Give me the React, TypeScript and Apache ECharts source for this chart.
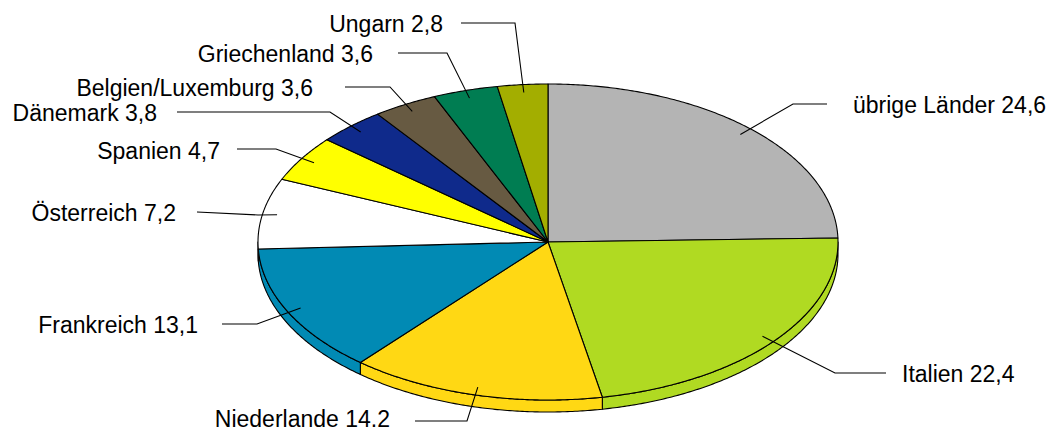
import React, { useEffect, useRef } from "react";
import * as echarts from "echarts";

// ---- data (clockwise from 12 o'clock) ----
const countries = [
  "übrige Länder",
  "Italien",
  "Niederlande",
  "Frankreich",
  "Österreich",
  "Spanien",
  "Dänemark",
  "Belgien/Luxemburg",
  "Griechenland",
  "Ungarn",
];
const shares = [24.6, 22.4, 14.2, 13.1, 7.2, 4.7, 3.8, 3.6, 3.6, 2.8];
const decimalSeparators = [",", ",", ".", ",", ",", ",", ",", ",", ",", ","];

// ---- styles ----
const colors = [
  "#b4b4b4",
  "#b0da22",
  "#ffd814",
  "#018ab4",
  "#ffffff",
  "#ffff00",
  "#0f2a8b",
  "#675a42",
  "#007d52",
  "#a3ae00",
];

// ---- layout ----
const CX = 548;
const CY = 242;
const RX = 290;
const RY = 158;
const DEPTH = 12;
const LEADER_F = 0.95;
const FONT = '23px "Liberation Sans", Arial, sans-serif';

// text anchor, leader start, elbow
const labelLayout = [
  { tx: 853, ty: 105, align: "left", lx: 827, ly: 104, ex: 793, ey: 104 },
  { tx: 902, ty: 374, align: "left", lx: 886, ly: 373, ex: 835, ey: 373 },
  { tx: 390, ty: 419, align: "right", lx: 415, ly: 421, ex: 467, ey: 421 },
  { tx: 198, ty: 325, align: "right", lx: 222, ly: 324, ex: 257, ey: 324 },
  { tx: 176, ty: 213, align: "right", lx: 197, ly: 212, ex: 258, ey: 215 },
  { tx: 220, ty: 151, align: "right", lx: 237, ly: 149, ex: 276, ey: 149 },
  { tx: 157, ty: 113, align: "right", lx: 177, ly: 112, ex: 330, ey: 112 },
  { tx: 313, ty: 88, align: "right", lx: 345, ly: 87, ex: 390, ey: 87 },
  { tx: 373, ty: 54, align: "right", lx: 398, ly: 53, ex: 447, ey: 53 },
  { tx: 443, ty: 24, align: "right", lx: 461, ly: 23, ex: 515, ey: 23 },
];

function pt(deg: number, f = 1, dy = 0): number[] {
  const r = (deg * Math.PI) / 180;
  return [CX + RX * f * Math.sin(r), CY - RY * f * Math.cos(r) + dy];
}

function arc(a0: number, a1: number, dy = 0): number[][] {
  const steps = Math.max(2, Math.ceil((a1 - a0) / 0.5));
  const out: number[][] = [];
  for (let s = 0; s <= steps; s++) {
    out.push(pt(a0 + ((a1 - a0) * s) / steps, 1, dy));
  }
  return out;
}

export default function App() {
  const ref = useRef<HTMLDivElement>(null);

  useEffect(() => {
    if (!ref.current) return;
    const chart = echarts.init(ref.current, null, { renderer: "svg" });
    const total = shares.reduce((a, b) => a + b, 0);

    const renderItem = (params: any, api: any) => {
      const i = params.dataIndex;
      const v = api.value(0) as number;
      let before = 0;
      for (let k = 0; k < i; k++) before += shares[k];
      const a0 = (before / total) * 360;
      const a1 = ((before + v) / total) * 360;
      const color = colors[i];
      const children: any[] = [];

      const s0 = Math.max(a0, 90);
      const s1 = Math.min(a1, 270);
      if (s1 > s0) {
        const pts = arc(s0, s1, 0).concat(arc(s0, s1, DEPTH).reverse());
        children.push({
          type: "polygon",
          shape: { points: pts },
          style: { fill: color, stroke: "#000", lineWidth: 1.1, lineJoin: "round" },
        });
      }

      children.push({
        type: "polygon",
        shape: { points: [[CX, CY]].concat(arc(a0, a1, 0)) },
        style: { fill: color, stroke: "#000", lineWidth: 1.1, lineJoin: "round" },
      });

      const L = labelLayout[i];
      const mid = (a0 + a1) / 2;
      const end = pt(mid, LEADER_F);
      children.push({
        type: "polyline",
        shape: { points: [[L.lx, L.ly], [L.ex, L.ey], end] },
        style: { stroke: "#000", lineWidth: 1.1, fill: null },
      });

      const valText = v.toFixed(1).replace(".", decimalSeparators[i]);
      children.push({
        type: "text",
        style: {
          text: countries[i] + " " + valText,
          x: L.tx,
          y: L.ty,
          align: L.align,
          verticalAlign: "middle",
          font: FONT,
          fill: "#000",
        },
      });

      return { type: "group", children };
    };

    chart.setOption({
      animation: false,
      backgroundColor: "#ffffff",
      series: [
        {
          type: "custom",
          coordinateSystem: "none",
          silent: true,
          renderItem,
          data: shares.map((s, idx) => ({ name: countries[idx], value: [s] })),
        },
      ],
    });

    return () => chart.dispose();
  }, []);

  return (
    <div
      ref={ref}
      style={{ position: "absolute", left: 0, top: 0, width: 1050, height: 432 }}
    />
  );
}
